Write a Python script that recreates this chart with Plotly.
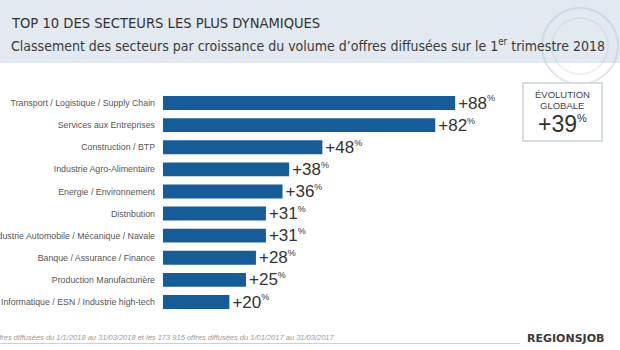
import plotly.graph_objects as go

categories = [
    "Transport / Logistique / Supply Chain",
    "Services aux Entreprises",
    "Construction / BTP",
    "Industrie Agro-Alimentaire",
    "Energie / Environnement",
    "Distribution",
    "Industrie Automobile / Mécanique / Navale",
    "Banque / Assurance / Finance",
    "Production Manufacturière",
    "Informatique / ESN / Industrie high-tech",
]
values = [88, 82, 48, 38, 36, 31, 31, 28, 25, 20]
global_growth = 39

title = "TOP 10 DES SECTEURS LES PLUS DYNAMIQUES"
subtitle = "Classement des secteurs par croissance du volume d’offres diffusées sur le 1<sup>er</sup> trimestre 2018"
footnote = "offres diffusées du 1/1/2018 au 31/03/2018 et les 173 915 offres diffusées du 1/01/2017 au 31/03/2017"

W, H = 620, 350
ML, MR, MT, MB = 163, 0, 92, 37
PW, PH = W - ML - MR, H - MT - MB


def px(x):
    return (x - ML) / PW


def py(y):
    return (H - MB - y) / PH


NARROW = "DejaVu Sans Condensed, Liberation Sans Narrow, Arial Narrow, sans-serif"
SANS = "Liberation Sans, Arial, Helvetica, sans-serif"
PCT = "<sup><span style='font-size:9px'>%</span></sup>"

fig = go.Figure(
    go.Bar(
        x=values,
        y=categories,
        orientation="h",
        marker=dict(color="#165d97", line=dict(width=0)),
        text=[f"+{v}{PCT}" for v in values],
        textposition="outside",
        constraintext="none",
        textfont=dict(family=SANS, size=17, color="#333333"),
        cliponaxis=False,
        hoverinfo="skip",
    )
)

shapes = [
    dict(type="rect", xref="paper", yref="paper", x0=px(0), x1=px(W), y0=py(0), y1=py(63),
         fillcolor="#e3e9f1", line=dict(width=0), layer="below"),
    dict(type="circle", xref="paper", yref="paper", x0=px(542), x1=px(618), y0=py(8), y1=py(84),
         line=dict(color="rgba(170,185,205,0.35)", width=2), layer="below"),
    dict(type="circle", xref="paper", yref="paper", x0=px(552), x1=px(608), y0=py(18), y1=py(74),
         line=dict(color="rgba(170,185,205,0.25)", width=1.5), layer="below"),
    dict(type="rect", xref="paper", yref="paper", x0=px(523), x1=px(602), y0=py(83), y1=py(141),
         fillcolor="white", line=dict(color="#c8d3dd", width=1.5)),
    dict(type="line", xref="paper", yref="paper", x0=px(0), x1=px(520), y0=py(343.5), y1=py(343.5),
         line=dict(color="#cfcfcf", width=1)),
]

annotations = [
    dict(text=title, xref="paper", yref="paper", x=px(9), y=py(22), xanchor="left", yanchor="middle",
         showarrow=False, font=dict(family=NARROW, size=14.6, color="#333333")),
    dict(text=subtitle, xref="paper", yref="paper", x=px(9), y=py(45), xanchor="left", yanchor="middle",
         showarrow=False, font=dict(family=NARROW, size=14, color="#3a3a3a")),
    dict(text="ÉVOLUTION", xref="paper", yref="paper", x=px(562), y=py(95), xanchor="center", yanchor="middle",
         showarrow=False, font=dict(family=SANS, size=9.5, color="#444444")),
    dict(text="GLOBALE", xref="paper", yref="paper", x=px(562), y=py(105), xanchor="center", yanchor="middle",
         showarrow=False, font=dict(family=SANS, size=9.5, color="#444444")),
    dict(text=f"+{global_growth}<sup><span style='font-size:11px'>%</span></sup>", xref="paper", yref="paper",
         x=px(562), y=py(124), xanchor="center", yanchor="middle", showarrow=False,
         font=dict(family=SANS, size=23, color="#333333")),
    dict(text=f"<i>{footnote}</i>", xref="paper", yref="paper", x=px(337), y=py(337), xanchor="right",
         yanchor="middle", showarrow=False, font=dict(family=SANS, size=7.5, color="#9a9a9a")),
    dict(text="<b>REGIONSJOB</b>", xref="paper", yref="paper", x=px(565), y=py(338), xanchor="center",
         yanchor="middle", showarrow=False, font=dict(family="DejaVu Sans, sans-serif", size=11, color="#3a3a3a")),
]

fig.update_layout(
    width=W, height=H,
    margin=dict(l=ML, r=MR, t=MT, b=MB, pad=0, autoexpand=False),
    paper_bgcolor="white", plot_bgcolor="rgba(0,0,0,0)",
    showlegend=False,
    bargap=0.37,
    xaxis=dict(range=[0, PW / 3.32], visible=False, fixedrange=True, automargin=False),
    yaxis=dict(categoryorder="array", categoryarray=categories[::-1], showgrid=False, zeroline=False,
               showline=False, ticks="", ticklabelstandoff=7, automargin=False,
               tickfont=dict(family=SANS, size=8.8, color="#555555"), fixedrange=True),
    shapes=shapes,
    annotations=annotations,
)

fig.write_html("out.html")
